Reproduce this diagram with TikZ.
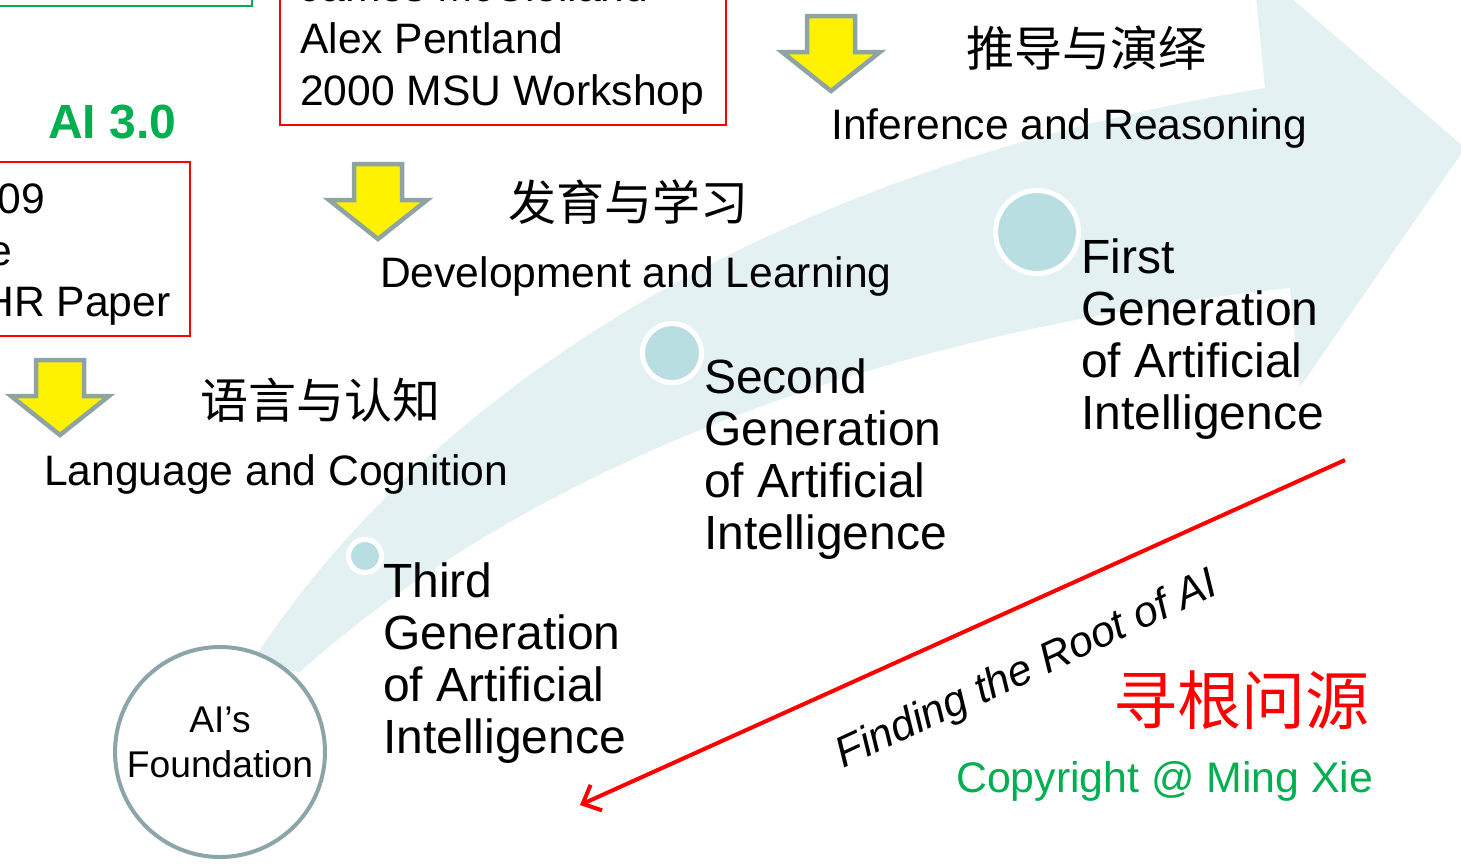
\documentclass[tikz,border=0pt]{standalone}
\usepackage{fontspec}
\setmainfont{Liberation Sans}
\newfontfamily\cjk{Noto Sans CJK SC}
\usetikzlibrary{arrows.meta}
\definecolor{bandc}{HTML}{E4F1F3}
\definecolor{dotc}{HTML}{B8DEE2}
\definecolor{ringc}{HTML}{8CA5A8}
\definecolor{arrbd}{HTML}{8FA3A5}
\definecolor{grn}{HTML}{00B050}
\definecolor{redc}{HTML}{FF0000}
\begin{document}
\begin{tikzpicture}[x=1pt,y=-1pt,
  txt/.style={inner sep=0pt, anchor=base west, font=\fontsize{42.6}{52}\selectfont},
  gen/.style={inner sep=0pt, anchor=north west, align=left, font=\fontsize{48}{52}\selectfont},
  cn/.style={inner sep=0pt, anchor=west, font=\cjk\fontsize{48}{56}\selectfont},
  dot/.style={circle, fill=dotc, draw=white, line width=5pt, inner sep=0pt},
  box/.style={line width=2pt},
  yarrow/.pic={\draw[fill=yellow, draw=arrbd, line width=4.5pt, line join=miter]
     (-24,0) -- (24,0) -- (24,36) -- (49,36) -- (0,75) -- (-49,36) -- (-24,36) -- cycle;}
]
\useasboundingbox (0,0) rectangle (1461,865);
\clip (0,0) rectangle (1461,865);
\fill[white] (0,0) rectangle (1461,865);

% curved band arrow
\fill[bandc] (250,665) .. controls (420,400) and (760,170) .. (1265,88)
  -- (1253,-35) -- (1465,148) -- (1300,387) -- (1290,288)
  .. controls (800,340) and (480,510) .. (300,672) -- cycle;

% dots
\node[dot, minimum size=83pt] (d1) at (1037,232) {};
\node[dot, minimum size=59pt] (d2) at (672,353) {};
\node[dot, minimum size=33pt] (d3) at (365,556) {};

% foundation circle
\node[circle, draw=ringc, fill=white, line width=4pt, minimum size=210pt, inner sep=0pt] (found) at (220,752) {};
\node[inner sep=0pt, align=center, font=\fontsize{37.2}{45}\selectfont] (foundtxt) at (220,742) {AI’s\\Foundation};

% boxes
\draw[grn, box] (-20,-40) rectangle (252,6);
\draw[redc, box] (280,-40) rectangle (726,125);
\draw[redc, box] (-60,162) rectangle (190,336);

\node[txt] (mc) at (300,1) {James McClelland};
\node[txt] (ap) at (300,53) {Alex Pentland};
\node[txt] (msu) at (300,105) {2000 MSU Workshop};

\node[txt] (y09) at (-50,213) {2009};
\node[txt] (xie) at (-50,265) {Xie};
\node[txt] (ijhr) at (-50,316) {IJHR Paper};

\node[inner sep=0pt, anchor=base west, font=\bfseries\fontsize{48}{56}\selectfont, text=grn] (ai3) at (48,138) {AI 3.0};

% yellow arrows
\pic at (60,360) {yarrow};
\pic at (378,164) {yarrow};
\pic at (831,16) {yarrow};

% chinese headings
\node[cn] (lc) at (200,400) {语言与认知};
\node[cn] (dl) at (508,202) {发育与学习};
\node[cn] (ir) at (966,48) {推导与演绎};

\node[txt] (lce) at (44,485) {Language and Cognition};
\node[txt] (dle) at (380,287) {Development and Learning};
\node[txt] (ire) at (831,139) {Inference and Reasoning};

% generations
\node[gen] (g1) at (1081,239) {First\\Generation\\of Artificial\\Intelligence};
\node[gen] (g2) at (704,359) {Second\\Generation\\of Artificial\\Intelligence};
\node[gen] (g3) at (383,563) {Third\\Generation\\of Artificial\\Intelligence};

% red arrow
\coordinate (rs) at (1345,460);
\coordinate (re) at (580,805);
\draw[redc, line width=4pt, -{Straight Barb[length=15pt,width=28pt]}] (rs) -- (re);

\node[inner sep=0pt, anchor=base, rotate=24.8, font=\itshape\fontsize{43}{50}\selectfont] (root) at (1032,681) {Finding the Root of AI};

\node[inner sep=0pt, anchor=west, font=\cjk\fontsize{64}{72}\selectfont, text=redc] (xg) at (1113,700) {寻根问源};
\node[inner sep=0pt, anchor=base west, font=\fontsize{42.8}{52}\selectfont, text=grn] (copy) at (956,792) {Copyright @ Ming Xie};
\end{tikzpicture}
\end{document}
